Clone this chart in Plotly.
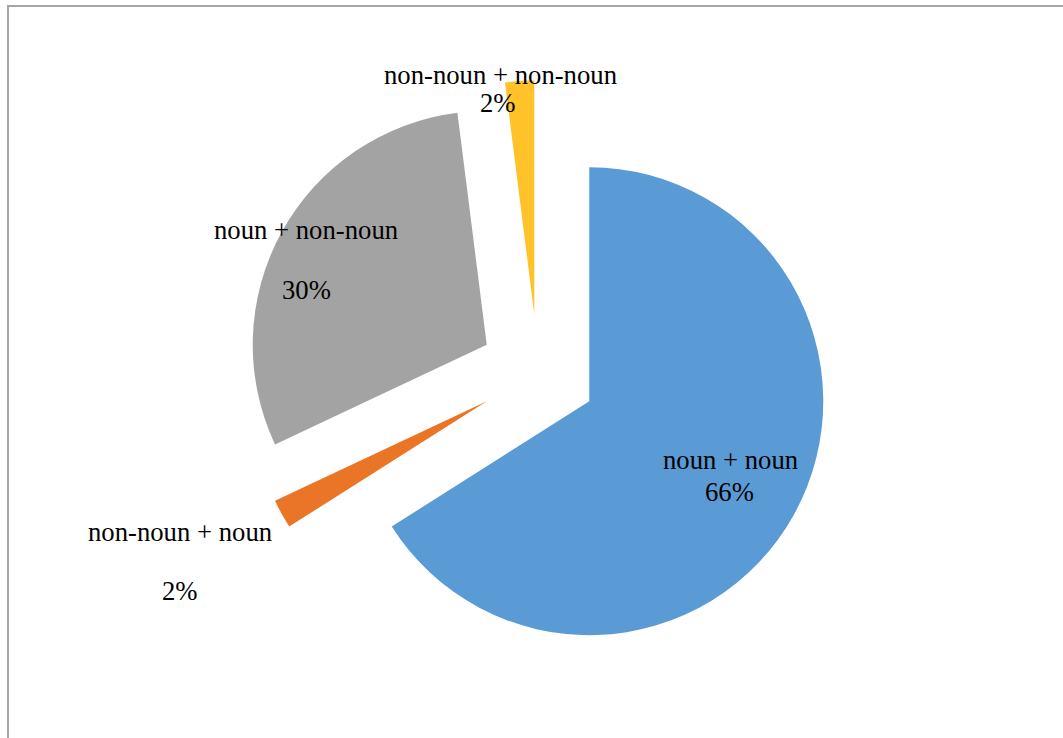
import plotly.graph_objects as go

categories = ["noun + noun", "non-noun + noun", "noun + non-noun", "non-noun + non-noun"]
values = [66, 2, 30, 2]
pct_labels = ["66%", "2%", "30%", "2%"]
colors = ["#5B9BD5", "#EA7527", "#A3A3A3", "#FFC229"]

W, H = 1063, 738

fig = go.Figure()
fig.add_trace(go.Pie(
    labels=categories,
    values=values,
    sort=False,
    direction="clockwise",
    rotation=0,
    pull=[0.25, 0.25, 0.25, 0.25],
    marker=dict(colors=colors, line=dict(width=0)),
    textinfo="none",
    hoverinfo="label+percent",
    showlegend=False,
    domain=dict(x=[(538 - 292.5) / W, (538 + 292.5) / W],
                y=[1 - (373 + 292.5) / H, 1 - (373 - 292.5) / H]),
))

font = dict(family="Liberation Serif, Times New Roman, serif", size=26.7, color="#000000")

# label placements (pixel centres) : name line, percent line
label_pos = [
    ((730, 460), (729, 492)),
    ((180, 532), (180, 591)),
    ((306, 230), (306, 290)),
    ((500, 75), (498, 103)),
]

for name, pct, (p1, p2) in zip(categories, pct_labels, label_pos):
    for txt, (px, py) in ((name, p1), (pct, p2)):
        fig.add_annotation(
            x=px / W, y=1 - py / H, xref="paper", yref="paper",
            text=txt, showarrow=False, font=font,
            xanchor="center", yanchor="middle",
        )

# chart frame (top and left edges visible)
fig.add_shape(type="rect", xref="paper", yref="paper",
              x0=8 / W, y0=-0.05, x1=1.05, y1=1 - 6 / H,
              line=dict(color="#A6A6A6", width=2), fillcolor="rgba(0,0,0,0)")

fig.update_layout(
    width=W, height=H,
    margin=dict(l=0, r=0, t=0, b=0),
    paper_bgcolor="#FFFFFF",
    plot_bgcolor="#FFFFFF",
)

fig.write_html("out.html", config={"displayModeBar": False},
               post_script="document.body.style.margin='0';")
